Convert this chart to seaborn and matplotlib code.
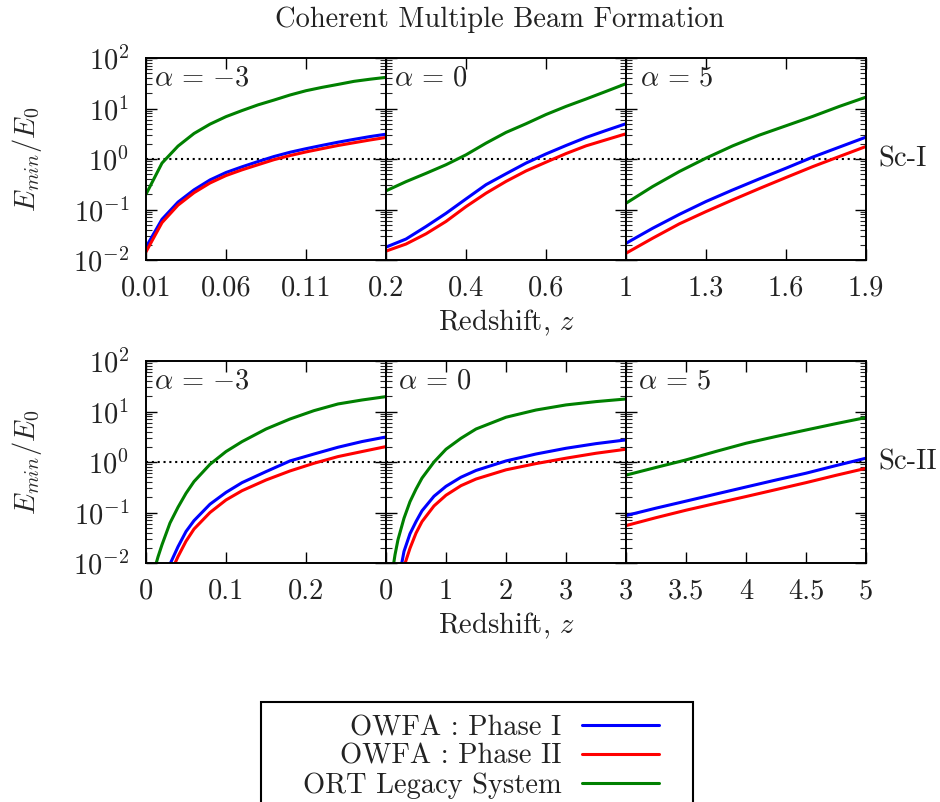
import numpy as np
import pandas as pd
import matplotlib
matplotlib.use("Agg")
import matplotlib.pyplot as plt
import seaborn as sns
from matplotlib.patches import Rectangle
from matplotlib.lines import Line2D
from matplotlib.ticker import LogLocator, NullLocator, NullFormatter, FixedLocator, FixedFormatter

# ---------------- data ----------------
series_names = ["OWFA : Phase I", "OWFA : Phase II", "ORT Legacy System"]
series_colors = ["#0000ff", "#ff0000", "#008000"]
title = "Coherent Multiple Beam Formation"
xlabel = "Redshift, $z$"
ylabel = r"$E_{min}/E_0$"
alpha_labels = [r"$\alpha\,=\,{-3}$", r"$\alpha\,=\,0$", r"$\alpha\,=\,5$"]
scenario_labels = ["Sc-I", "Sc-II"]

# Scenario I, alpha = -3
z_I_m3 = [0.01, 0.02, 0.03, 0.04, 0.05, 0.06, 0.07, 0.08, 0.09, 0.10, 0.11, 0.12, 0.13, 0.14, 0.15, 0.16]
p1_I_m3 = [0.018, 0.064, 0.14, 0.245, 0.385, 0.54, 0.70, 0.89, 1.12, 1.36, 1.60, 1.86, 2.15, 2.45, 2.78, 3.1]
p2_I_m3 = [0.0145, 0.055, 0.122, 0.215, 0.335, 0.47, 0.61, 0.77, 0.97, 1.17, 1.38, 1.60, 1.85, 2.10, 2.38, 2.67]
ort_I_m3 = [0.20, 0.83, 1.8, 3.2, 4.9, 6.9, 9.1, 11.8, 14.7, 18.5, 22.5, 26.2, 30.0, 34.5, 38.0, 41.4]

# Scenario I, alpha = 0
z_I_0 = [0.20, 0.25, 0.30, 0.35, 0.40, 0.45, 0.50, 0.55, 0.60, 0.65, 0.70, 0.75, 0.80]
p1_I_0 = [0.018, 0.026, 0.046, 0.084, 0.162, 0.31, 0.51, 0.83, 1.26, 1.85, 2.67, 3.67, 5.0]
p2_I_0 = [0.015, 0.0207, 0.033, 0.058, 0.114, 0.21, 0.36, 0.58, 0.865, 1.28, 1.82, 2.4, 3.16]
ort_I_0 = [0.234, 0.356, 0.52, 0.77, 1.21, 2.06, 3.36, 4.99, 7.6, 11.0, 15.4, 21.8, 31.0]

# Scenario I, alpha = 5
z_I_5 = [1.0, 1.1, 1.2, 1.3, 1.4, 1.5, 1.6, 1.7, 1.8, 1.9]
p1_I_5 = [0.0214, 0.0425, 0.080, 0.144, 0.244, 0.404, 0.658, 1.09, 1.72, 2.71]
p2_I_5 = [0.0136, 0.027, 0.052, 0.091, 0.155, 0.26, 0.43, 0.705, 1.12, 1.77]
ort_I_5 = [0.133, 0.285, 0.565, 1.04, 1.82, 2.97, 4.55, 6.97, 11.0, 16.8]

# Scenario II, alpha = -3
z_II_m3 = [0.01, 0.015, 0.02, 0.03, 0.04, 0.05, 0.06, 0.08, 0.10, 0.12, 0.15, 0.18, 0.21, 0.24, 0.27, 0.30]
p1_II_m3 = [0.0006, 0.0015, 0.003, 0.0095, 0.021, 0.042, 0.069, 0.146, 0.25, 0.39, 0.645, 1.05, 1.44, 1.96, 2.54, 3.13]
p2_II_m3 = [0.0004, 0.001, 0.002, 0.006, 0.0134, 0.027, 0.047, 0.10, 0.177, 0.27, 0.44, 0.665, 0.944, 1.28, 1.61, 2.02]
ort_II_m3 = [0.007, 0.0132, 0.023, 0.062, 0.127, 0.24, 0.41, 0.90, 1.61, 2.53, 4.5, 7.1, 10.4, 14.1, 16.9, 19.7]

# Scenario II, alpha = 0
z_II_0 = [0.1, 0.15, 0.2, 0.3, 0.4, 0.5, 0.6, 0.8, 1.0, 1.25, 1.5, 2.0, 2.5, 3.0, 3.5, 4.0]
p1_II_0 = [0.001, 0.002, 0.004, 0.017, 0.038, 0.066, 0.108, 0.21, 0.33, 0.50, 0.68, 1.05, 1.44, 1.87, 2.31, 2.74]
p2_II_0 = [0.0007, 0.0015, 0.0028, 0.0085, 0.0196, 0.039, 0.066, 0.135, 0.22, 0.34, 0.46, 0.70, 0.93, 1.19, 1.49, 1.79]
ort_II_0 = [0.006, 0.0145, 0.029, 0.077, 0.164, 0.29, 0.48, 1.0, 1.79, 2.95, 4.5, 7.7, 10.7, 13.5, 15.7, 17.7]

# Scenario II, alpha = 5
z_II_5 = [3.0, 3.25, 3.5, 3.75, 4.0, 4.25, 4.5, 4.75, 5.0]
p1_II_5 = [0.087, 0.122, 0.168, 0.232, 0.32, 0.44, 0.60, 0.85, 1.19]
p2_II_5 = [0.055, 0.079, 0.111, 0.152, 0.207, 0.284, 0.39, 0.545, 0.75]
ort_II_5 = [0.55, 0.78, 1.10, 1.62, 2.35, 3.2, 4.3, 5.75, 7.6]

# axis ranges and ticks
xlims = [[(0.01, 0.16), (0.2, 0.8), (1.0, 1.9)],
         [(0.0, 0.3), (0.0, 4.0), (3.0, 5.0)]]
xticks = [[[0.01, 0.06, 0.11, 0.16], [0.2, 0.4, 0.6, 0.8], [1.0, 1.3, 1.6, 1.9]],
          [[0.0, 0.1, 0.2, 0.3], [0, 1, 2, 3, 4], [3, 3.5, 4, 4.5, 5]]]
xticklabels = [[["0.01", "0.06", "0.11", ""], ["0.2", "0.4", "0.6", ""], ["1", "1.3", "1.6", "1.9"]],
               [["0", "0.1", "0.2", ""], ["0", "1", "2", "3", ""], ["3", "3.5", "4", "4.5", "5"]]]
ylim = (1e-2, 1e2)

panels = [
    [(z_I_m3, p1_I_m3, p2_I_m3, ort_I_m3), (z_I_0, p1_I_0, p2_I_0, ort_I_0), (z_I_5, p1_I_5, p2_I_5, ort_I_5)],
    [(z_II_m3, p1_II_m3, p2_II_m3, ort_II_m3), (z_II_0, p1_II_0, p2_II_0, ort_II_0), (z_II_5, p1_II_5, p2_II_5, ort_II_5)],
]

# ---------------- style ----------------
sns.set_style("ticks")
FS = 20.5
plt.rcParams.update({
    "font.family": ["cmr10", "DejaVu Serif"],
    "mathtext.fontset": "cm",
    "axes.formatter.use_mathtext": True,
    "axes.unicode_minus": True,
    "font.size": FS,
    "axes.linewidth": 1.4,
    "text.color": "#222222",
})

W, H = 940, 802
fig = plt.figure(figsize=(W / 100, H / 100), dpi=100)

def fx(px):
    return px / W

def fy(py):
    return 1 - py / H

col_left = [146, 386, 626]
col_w = 240
row_top = [58, 361]
row_h = 202
alpha_dx = [[8, 8, 14], [8, 12, 12]]

palette = dict(zip(series_names, series_colors))

for r in range(2):
    for c in range(3):
        ax = fig.add_axes([fx(col_left[c]), fy(row_top[r] + row_h), col_w / W, row_h / H])
        z, p1, p2, ort = panels[r][c]
        df = pd.DataFrame({
            "z": list(z) * 3,
            "E": list(p1) + list(p2) + list(ort),
            "series": [series_names[0]] * len(z) + [series_names[1]] * len(z) + [series_names[2]] * len(z),
        })
        sns.lineplot(data=df, x="z", y="E", hue="series", hue_order=series_names,
                     palette=palette, legend=False, ax=ax, linewidth=2.2,
                     errorbar=None, estimator=None)
        ax.set_yscale("log")
        ax.set_ylim(*ylim)
        ax.set_xlim(*xlims[r][c])
        ax.axhline(1.0, color="black", lw=1.5, ls=(0, (1, 1.8)), zorder=1)

        ax.xaxis.set_major_locator(FixedLocator(xticks[r][c]))
        ax.xaxis.set_major_formatter(FixedFormatter(xticklabels[r][c]))
        ax.xaxis.set_minor_locator(NullLocator())
        ax.yaxis.set_major_locator(LogLocator(base=10, numticks=10))
        ax.yaxis.set_minor_locator(LogLocator(base=10, subs=np.arange(2, 10), numticks=10))
        ax.yaxis.set_minor_formatter(NullFormatter())
        ax.tick_params(axis="both", which="major", direction="in", length=8, width=1.0,
                       top=True, right=True, labelsize=FS, colors="black", labelcolor="#222222")
        ax.tick_params(axis="both", which="minor", direction="in", length=4, width=0.8,
                       top=True, right=True)
        ax.tick_params(axis="x", which="major", pad=11)
        ax.tick_params(axis="y", which="major", pad=12)
        if c > 0:
            ax.tick_params(axis="y", which="both", labelleft=False)
        ax.set_xlabel("")
        ax.set_ylabel("")
        for s in ax.spines.values():
            s.set_color("black")
            s.set_linewidth(1.4)

        ax.text(alpha_dx[r][c] / col_w, 0.90, alpha_labels[c], transform=ax.transAxes,
                ha="left", va="center", fontsize=FS)
        if c == 0:
            ax.set_ylabel(ylabel, fontsize=FS)
            ax.yaxis.set_label_coords(-0.425, 0.5)
        if c == 1:
            ax.text(0.5, -70 / row_h, xlabel, transform=ax.transAxes,
                    ha="center", va="baseline", fontsize=FS)
        if c == 2:
            ax.text(1 + 12 / col_w, 1.0, scenario_labels[r], transform=ax.get_yaxis_transform(),
                    ha="left", va="center", fontsize=FS)
        ax.set_facecolor("white")

fig.text(fx(500), fy(20), title, ha="center", va="center", fontsize=FS)

# legend
handles = [Line2D([], [], color=col, lw=2.2) for col in series_colors]
leg = fig.legend(handles, series_names, loc="upper right",
                 bbox_to_anchor=(fx(659), fy(715)), frameon=False, markerfirst=False,
                 handlelength=2.7, handletextpad=0.72, borderpad=0, borderaxespad=0,
                 labelspacing=0.08, fontsize=FS)
frame = Rectangle((fx(261), -0.05), (693 - 261) / W, fy(702) + 0.05, transform=fig.transFigure,
                  fill=False, ec="black", lw=1.5)
fig.add_artist(frame)

fig.savefig("out.png", dpi=100, facecolor="white")
